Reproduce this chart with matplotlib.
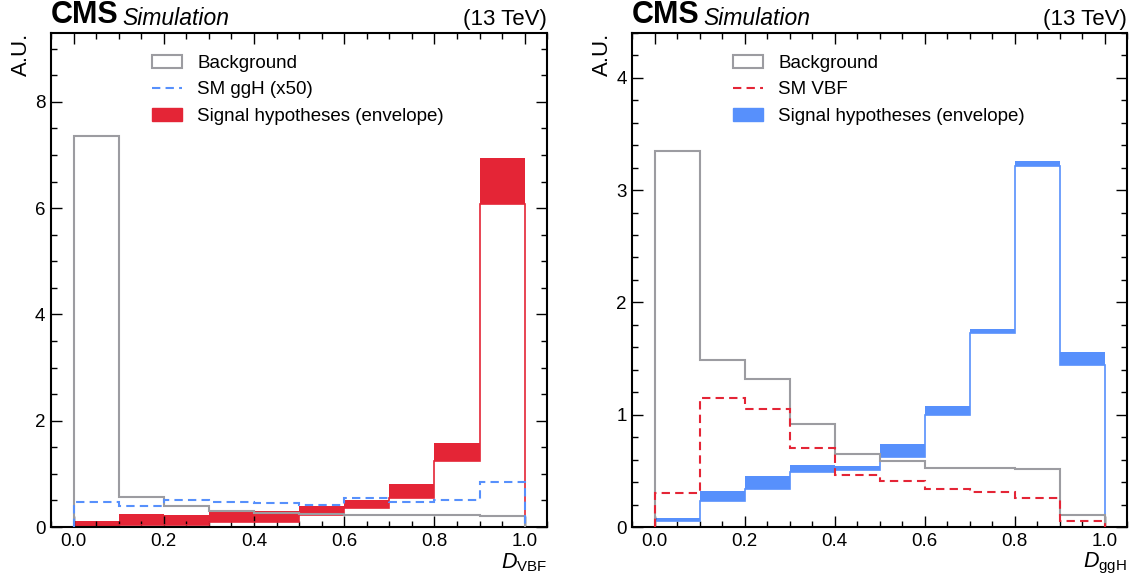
# -*- coding: utf-8 -*-
"""
Two-panel CMS-style discriminant plots: D_VBF and D_ggH shapes
for background, SM signal and the envelope of signal hypotheses.
"""

import matplotlib
matplotlib.use('Agg')
import matplotlib.pyplot as plt
from matplotlib.patches import Patch
from matplotlib.lines import Line2D
from matplotlib.ticker import MultipleLocator

plt.rcParams['font.family'] = ['Liberation Sans', 'DejaVu Sans']
plt.rcParams['mathtext.fontset'] = 'custom'
plt.rcParams['mathtext.rm'] = 'Liberation Sans'
plt.rcParams['mathtext.it'] = 'Liberation Sans:italic'

## Colours (CMS palette)
red = '#e42536'
blue = '#5790fc'
grey = '#9c9ca1'

## Bin edges shared by both discriminants
edges = [0.0, 0.1, 0.2, 0.3, 0.4, 0.5, 0.6, 0.7, 0.8, 0.9, 1.0]

## Left panel: D_VBF
vbf_bkg = [7.36, 0.57, 0.40, 0.30, 0.27, 0.25, 0.23, 0.22, 0.22, 0.20]
vbf_sm_ggh = [0.47, 0.39, 0.50, 0.48, 0.45, 0.41, 0.55, 0.47, 0.51, 0.84]
vbf_env_lo = [0.01, 0.04, 0.03, 0.09, 0.09, 0.22, 0.36, 0.55, 1.25, 6.08]
vbf_env_hi = [0.12, 0.24, 0.22, 0.28, 0.31, 0.39, 0.50, 0.81, 1.58, 6.94]

## Right panel: D_ggH
ggh_bkg = [3.35, 1.49, 1.32, 0.92, 0.65, 0.59, 0.53, 0.53, 0.52, 0.11]
ggh_sm_vbf = [0.30, 1.15, 1.05, 0.70, 0.46, 0.41, 0.34, 0.31, 0.26, 0.05]
ggh_env_lo = [0.05, 0.23, 0.34, 0.49, 0.51, 0.62, 1.00, 1.73, 3.21, 1.44]
ggh_env_hi = [0.08, 0.32, 0.45, 0.55, 0.54, 0.74, 1.08, 1.76, 3.26, 1.56]


def style_axes(ax, ymax, ymajor, yminor, xlabel):
    ax.set_xlim(-0.05, 1.05)
    ax.set_ylim(0, ymax)
    ax.xaxis.set_major_locator(MultipleLocator(0.2))
    ax.xaxis.set_minor_locator(MultipleLocator(0.05))
    ax.yaxis.set_major_locator(MultipleLocator(ymajor))
    ax.yaxis.set_minor_locator(MultipleLocator(yminor))
    ax.tick_params(which='both', direction='in', top=True, right=True,
                   labelsize=13.5)
    ax.tick_params(which='major', length=8, width=1, pad=4)
    ax.tick_params(which='minor', length=4, width=1)
    for sp in ax.spines.values():
        sp.set_linewidth(1.5)
    ax.set_ylabel('A.U.', loc='top', fontsize=16, labelpad=2)
    ax.set_xlabel(xlabel, loc='right', fontsize=15.5, labelpad=1)
    # CMS label
    ax.text(0, 1.006, 'CMS', transform=ax.transAxes, fontsize=22,
            fontweight='bold', va='bottom', ha='left')
    ax.text(0.143, 1.006, 'Simulation', transform=ax.transAxes,
            fontsize=16.5, style='italic', va='bottom', ha='left')
    ax.text(1.0, 1.006, '(13 TeV)', transform=ax.transAxes,
            fontsize=16, va='bottom', ha='right')


def draw_panel(ax, bkg, sm, lo, hi, sm_col, env_col, sm_label):
    ax.stairs(hi, edges, baseline=lo, fill=True, color=env_col, lw=0,
              zorder=1)
    ax.stairs(lo, edges, color=env_col, lw=1.2, zorder=2)
    ax.stairs(bkg, edges, color=grey, lw=1.5, zorder=3)
    ax.stairs(sm, edges, color=sm_col, lw=1.5, ls=(0, (4, 2.5)), zorder=4)
    handles = [Patch(facecolor='none', edgecolor=grey, lw=1.5),
               Line2D([], [], color=sm_col, ls=(0, (4, 2.5)), lw=1.5),
               Patch(facecolor=env_col, edgecolor=env_col)]
    labels = ['Background', sm_label, 'Signal hypotheses (envelope)']
    ax.legend(handles, labels, loc='upper left', bbox_to_anchor=(0.17, 0.99),
              frameon=False, fontsize=13.5, handlelength=1.6,
              handletextpad=0.8, labelspacing=0.5)


fig = plt.figure(figsize=(11.33, 5.76), dpi=100)
ax1 = fig.add_axes([0.045, 0.085, 0.438, 0.858])
ax2 = fig.add_axes([0.558, 0.085, 0.437, 0.858])

draw_panel(ax1, vbf_bkg, vbf_sm_ggh, vbf_env_lo, vbf_env_hi,
           blue, red, 'SM ggH (x50)')
style_axes(ax1, 9.3, 2, 0.5, r'$D_{\mathrm{VBF}}$')

draw_panel(ax2, ggh_bkg, ggh_sm_vbf, ggh_env_lo, ggh_env_hi,
           red, blue, 'SM VBF')
style_axes(ax2, 4.4, 1, 0.2, r'$D_{\mathrm{ggH}}$')

fig.savefig('out.png', dpi=100)
